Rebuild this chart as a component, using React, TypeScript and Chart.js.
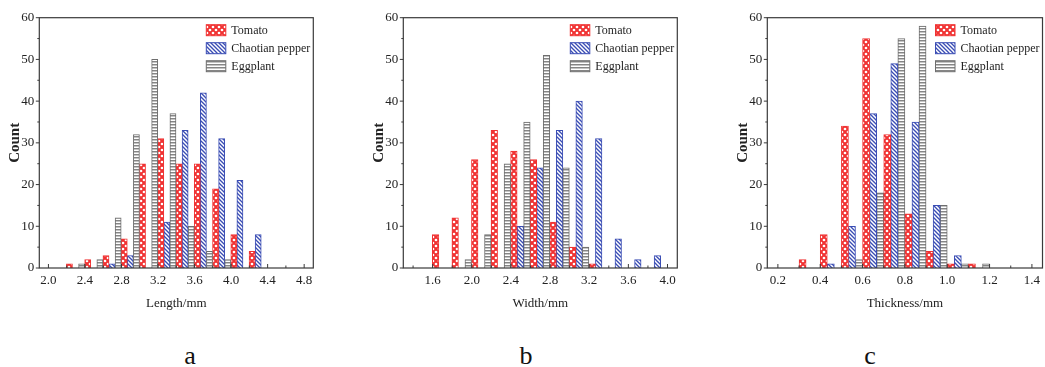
import React, { useEffect, useRef } from "react";
import { Chart, registerables } from "chart.js";

Chart.register(...registerables);

// ---------- Data ----------
const seriesNames = ["Tomato", "Chaotian pepper", "Eggplant"];
const countTicks = ["0", "10", "20", "30", "40", "50", "60"];

// Panel a: Length
const lengthCenters = [2.23, 2.43, 2.63, 2.83, 3.03, 3.23, 3.43, 3.63, 3.83, 4.03, 4.23];
const lengthTomato = [1, 2, 3, 7, 25, 31, 25, 25, 19, 8, 4];
const lengthPepper = [0, 0, 1, 3, 0, 11, 33, 42, 31, 21, 8];
const lengthEggplant = [0, 1, 2, 12, 32, 50, 37, 10, 4, 2, 0];
const lengthTicks = ["2.0", "2.4", "2.8", "3.2", "3.6", "4.0", "4.4", "4.8"];

// Panel b: Width
const widthCenters = [1.63, 1.83, 2.03, 2.23, 2.43, 2.63, 2.83, 3.03, 3.23, 3.43, 3.63, 3.83];
const widthTomato = [8, 12, 26, 33, 28, 26, 11, 5, 1, 0, 0, 0];
const widthPepper = [0, 0, 0, 0, 10, 24, 33, 40, 31, 7, 2, 3];
const widthEggplant = [0, 0, 2, 8, 25, 35, 51, 24, 5, 0, 0, 0];
const widthTicks = ["1.6", "2.0", "2.4", "2.8", "3.2", "3.6", "4.0"];

// Panel c: Thickness
const thickCenters = [0.35, 0.45, 0.55, 0.65, 0.75, 0.85, 0.95, 1.05, 1.15];
const thickTomato = [2, 8, 34, 55, 32, 13, 4, 1, 1];
const thickPepper = [0, 1, 10, 37, 49, 35, 15, 3, 0];
const thickEggplant = [0, 0, 2, 18, 55, 58, 15, 1, 1];
const thickTicks = ["0.2", "0.4", "0.6", "0.8", "1.0", "1.2", "1.4"];

// ---------- Styles ----------
const FONT = "'Liberation Serif', 'Times New Roman', serif";
const RED = "#f03232";
const BLUE = "#3a4db4";
const GRAY = "#858585";

function makePatterns() {
  const mk = (w: number, h: number, draw: (c: CanvasRenderingContext2D) => void) => {
    const cv = document.createElement("canvas");
    cv.width = w;
    cv.height = h;
    const c = cv.getContext("2d")!;
    draw(c);
    const ctx = document.createElement("canvas").getContext("2d")!;
    return ctx.createPattern(cv, "repeat")!;
  };
  const tomato = mk(6, 6, (c) => {
    c.fillStyle = RED;
    c.fillRect(0, 0, 6, 6);
    c.fillStyle = "#ffffff";
    const dots = [
      [3, 3],
      [0, 0],
      [6, 0],
      [0, 6],
      [6, 6],
    ];
    dots.forEach(([x, y]) => {
      c.beginPath();
      c.arc(x, y, 1.35, 0, Math.PI * 2);
      c.fill();
    });
  });
  const pepper = mk(4, 4, (c) => {
    c.fillStyle = "#ffffff";
    c.fillRect(0, 0, 4, 4);
    c.strokeStyle = BLUE;
    c.lineWidth = 1.35;
    c.beginPath();
    c.moveTo(-1, -1);
    c.lineTo(5, 5);
    c.moveTo(-1, 3);
    c.lineTo(1, 5);
    c.moveTo(3, -1);
    c.lineTo(5, 1);
    c.stroke();
  });
  const eggplant = mk(2, 3, (c) => {
    c.fillStyle = "#ffffff";
    c.fillRect(0, 0, 2, 3);
    c.fillStyle = GRAY;
    c.fillRect(0, 1, 2, 1);
    c.fillStyle = "#c4c4c4";
    c.fillRect(0, 2, 2, 1);
  });
  return { tomato, pepper, eggplant };
}

const framePlugin = {
  id: "frameTicks",
  afterDatasetsDraw(chart: any) {
    const { ctx, chartArea: a, scales } = chart;
    ctx.save();
    ctx.strokeStyle = "#3a3a3a";
    ctx.lineWidth = 1.2;
    ctx.strokeRect(a.left, a.top, a.right - a.left, a.bottom - a.top);
    ctx.lineWidth = 1;
    ctx.beginPath();
    const xs = scales.x;
    xs.ticks.forEach((t: any, i: number) => {
      const px = xs.getPixelForTick(i);
      const len = t.label !== "" ? 4 : 2.5;
      ctx.moveTo(px, a.bottom);
      ctx.lineTo(px, a.bottom - len);
    });
    const ys = scales.y;
    ys.ticks.forEach((t: any, i: number) => {
      const py = ys.getPixelForTick(i);
      const len = t.label !== "" ? 3.5 : 2;
      ctx.moveTo(a.left, py);
      ctx.lineTo(a.left - len, py);
    });
    ctx.stroke();
    ctx.restore();
  },
};

const legendPlugin = {
  id: "hatchLegend",
  afterDraw(chart: any) {
    const { ctx, chartArea: a } = chart;
    ctx.save();
    chart.data.datasets.forEach((ds: any, i: number) => {
      const x = a.right - 107;
      const cy = a.top + 12.5 + i * 18;
      ctx.fillStyle = ds.backgroundColor;
      ctx.fillRect(x, cy - 5.5, 19.5, 11);
      ctx.strokeStyle = ds.borderColor;
      ctx.lineWidth = 1;
      ctx.strokeRect(x, cy - 5.5, 19.5, 11);
      ctx.fillStyle = "#222";
      ctx.font = `12px ${FONT}`;
      ctx.textBaseline = "middle";
      ctx.textAlign = "left";
      ctx.fillText(ds.label, x + 25, cy + 0.5);
    });
    ctx.restore();
  },
};

type PanelProps = {
  left: number;
  centers: number[];
  tomato: number[];
  pepper: number[];
  eggplant: number[];
  xMin: number;
  xMax: number;
  step: number;
  xLabels: string[];
  xTitle: string;
  plotWidth: number;
  eggplantFirst: boolean;
};

const CANVAS_W = 334;
const CANVAS_H = 320;
const Y_W = 39.3;

function Panel(p: PanelProps) {
  const ref = useRef<HTMLCanvasElement | null>(null);
  useEffect(() => {
    const pats = makePatterns();
    const toPts = (vals: number[]) => p.centers.map((x, i) => ({ x, y: vals[i] }));
    const chart = new Chart(ref.current!, {
      type: "bar",
      data: {
        datasets: [
          {
            label: seriesNames[0],
            data: toPts(p.tomato),
            backgroundColor: pats.tomato,
            borderColor: RED,
            borderWidth: 1,
            order: p.eggplantFirst ? 1 : 0,
          },
          {
            label: seriesNames[1],
            data: toPts(p.pepper),
            backgroundColor: pats.pepper,
            borderColor: BLUE,
            borderWidth: 1,
            order: p.eggplantFirst ? 2 : 1,
          },
          {
            label: seriesNames[2],
            data: toPts(p.eggplant),
            backgroundColor: pats.eggplant,
            borderColor: "#6e6e6e",
            borderWidth: 1,
            order: p.eggplantFirst ? 0 : 2,
          },
        ] as any,
      },
      options: {
        animation: false,
        responsive: false,
        layout: {
          padding: { top: 17.7, left: 0, right: CANVAS_W - Y_W - p.plotWidth, bottom: 0 },
        },
        datasets: { bar: { categoryPercentage: 1, barPercentage: 1, grouped: true } } as any,
        plugins: { legend: { display: false }, tooltip: { enabled: false } },
        scales: {
          x: {
            type: "linear",
            min: p.xMin,
            max: p.xMax,
            afterFit: (s: any) => {
              s.height = CANVAS_H - 268;
            },
            grid: { display: false, drawTicks: false },
            border: { display: false },
            ticks: {
              stepSize: p.step,
              autoSkip: false,
              maxRotation: 0,
              padding: 5,
              color: "#222",
              font: { family: FONT, size: 13 },
              callback: (v: any) => {
                const s = Number(v).toFixed(1);
                return p.xLabels.includes(s) ? s : "";
              },
            },
            title: {
              display: true,
              text: p.xTitle,
              color: "#222",
              font: { family: FONT, size: 13 },
              padding: { top: 0, bottom: 9 },
            },
          },
          y: {
            min: 0,
            max: 60,
            afterFit: (s: any) => {
              s.width = Y_W;
            },
            grid: { display: false, drawTicks: false },
            border: { display: false },
            ticks: {
              stepSize: 5,
              padding: 5,
              color: "#222",
              font: { family: FONT, size: 13 },
              callback: (v: any) => {
                const s = String(Math.round(Number(v)));
                return countTicks.includes(s) ? s : "";
              },
            },
            title: {
              display: true,
              text: "Count",
              color: "#222",
              font: { family: FONT, size: 15, weight: "bold" },
              padding: { top: 6, bottom: 0 },
            },
          },
        },
      } as any,
      plugins: [framePlugin, legendPlugin],
    });
    return () => chart.destroy();
  }, []);
  return (
    <canvas
      ref={ref}
      width={CANVAS_W}
      height={CANVAS_H}
      style={{ position: "absolute", left: p.left, top: 0, width: CANVAS_W, height: CANVAS_H }}
    />
  );
}

const letterStyle = (x: number): React.CSSProperties => ({
  position: "absolute",
  left: x - 20,
  width: 40,
  top: 343,
  textAlign: "center",
  fontFamily: FONT,
  fontSize: 26,
  lineHeight: "26px",
  color: "#111",
});

export default function App() {
  return (
    <div
      style={{
        position: "fixed",
        left: 0,
        top: 0,
        width: 1045,
        height: 367,
        overflow: "hidden",
        background: "#ffffff",
      }}
    >
      <Panel
        left={0}
        centers={lengthCenters}
        tomato={lengthTomato}
        pepper={lengthPepper}
        eggplant={lengthEggplant}
        xMin={2.0}
        xMax={4.8}
        step={0.2}
        xLabels={lengthTicks}
        xTitle="Length/mm"
        plotWidth={274}
        eggplantFirst={true}
      />
      <Panel
        left={364}
        centers={widthCenters}
        tomato={widthTomato}
        pepper={widthPepper}
        eggplant={widthEggplant}
        xMin={1.4}
        xMax={4.0}
        step={0.2}
        xLabels={widthTicks}
        xTitle="Width/mm"
        plotWidth={274}
        eggplantFirst={true}
      />
      <Panel
        left={728}
        centers={thickCenters}
        tomato={thickTomato}
        pepper={thickPepper}
        eggplant={thickEggplant}
        xMin={0.2}
        xMax={1.4}
        step={0.1}
        xLabels={thickTicks}
        xTitle="Thickness/mm"
        plotWidth={275.2}
        eggplantFirst={false}
      />
      <div style={letterStyle(190)}>a</div>
      <div style={letterStyle(526)}>b</div>
      <div style={letterStyle(870)}>c</div>
    </div>
  );
}
